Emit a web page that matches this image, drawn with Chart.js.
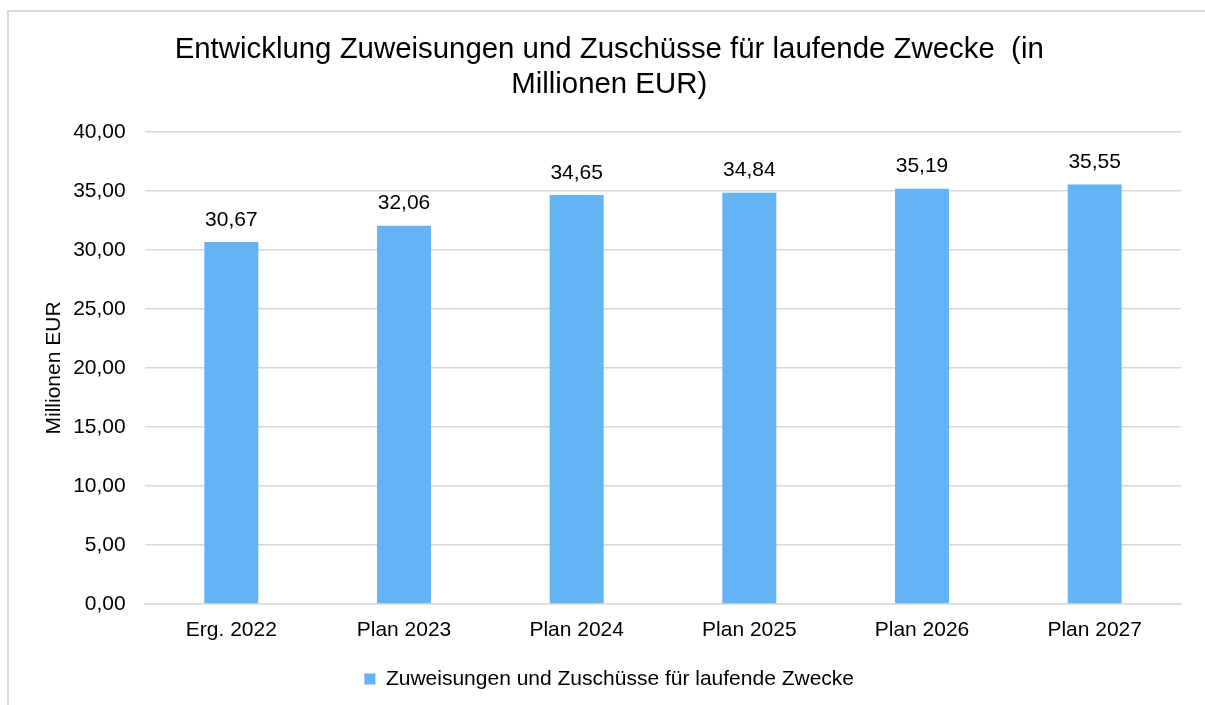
<!DOCTYPE html>
<html>
<head>
<meta charset="utf-8">
<script src="https://cdn.jsdelivr.net/npm/chart.js@4"></script>
<style>
  html, body { margin: 0; padding: 0; overflow: hidden; background: #fff; }
  #frame { position: absolute; left: 7px; top: 10px; width: 1220px; height: 720px; border: 2px solid #d9d9d9; pointer-events: none; }
  canvas { position: absolute; left: 0; top: 0; }
</style>
</head>
<body>
<canvas id="myChart" width="1205" height="705"></canvas>
<div id="frame"></div>
<script>
const ctx = document.getElementById('myChart');

const categories = ['Erg. 2022', 'Plan 2023', 'Plan 2024', 'Plan 2025', 'Plan 2026', 'Plan 2027'];
const values = [30.67, 32.06, 34.65, 34.84, 35.19, 35.55];
const seriesName = 'Zuweisungen und Zuschüsse für laufende Zwecke';
const titleLines = ['Entwicklung Zuweisungen und Zuschüsse für laufende Zwecke  (in', 'Millionen EUR)'];

const fmt = v => v.toFixed(2).replace('.', ',');
const FONT = 'Liberation Sans, Arial, sans-serif';

// value labels above the bars
const barLabels = {
    id: 'barLabels',
    afterDatasetsDraw(chart) {
        const c = chart.ctx;
        const meta = chart.getDatasetMeta(0);
        c.save();
        c.font = '21px ' + FONT;
        c.fillStyle = '#000';
        c.textAlign = 'center';
        c.textBaseline = 'alphabetic';
        meta.data.forEach((bar, i) => {
            c.fillText(fmt(values[i]), bar.x, bar.y - 16.5);
        });
        c.restore();
    }
};

new Chart(ctx, {
    type: 'bar',
    data: {
        labels: categories,
        datasets: [{
            label: seriesName,
            data: values,
            backgroundColor: '#63b3f5',
            barPercentage: 0.625,
            categoryPercentage: 0.5
        }]
    },
    options: {
        responsive: false,
        animation: false,
        layout: { padding: { left: 37.4, right: 24, top: 20, bottom: 5.5 } },
        plugins: {
            title: {
                display: true,
                text: titleLines,
                color: '#000',
                font: { family: FONT, size: 29.4, weight: 'normal', lineHeight: 1.2 },
                padding: { top: 12.4, bottom: 29 }
            },
            legend: {
                position: 'bottom',
                labels: {
                    color: '#000',
                    font: { family: FONT, size: 21 },
                    boxWidth: 11,
                    boxHeight: 11,
                    padding: 12.5
                }
            },
            tooltip: { enabled: false }
        },
        scales: {
            x: {
                grid: { display: false, drawTicks: false },
                border: { color: '#d9d9d9', width: 1.5 },
                ticks: { color: '#000', font: { family: FONT, size: 21, lineHeight: 1.524 }, padding: 10 }
            },
            y: {
                min: 0,
                max: 40,
                afterFit: scale => { scale.width = 107.6; },
                ticks: {
                    stepSize: 5,
                    color: '#000',
                    font: { family: FONT, size: 21 },
                    padding: 19.3,
                    callback: v => fmt(v)
                },
                grid: { color: '#d9d9d9', lineWidth: 1.5, drawTicks: false },
                border: { display: false },
                title: {
                    display: true,
                    text: 'Millionen EUR',
                    color: '#000',
                    font: { family: FONT, size: 21 },
                    padding: { top: 4, bottom: 6 }
                }
            }
        }
    },
    plugins: [barLabels]
});
</script>
</body>
</html>
